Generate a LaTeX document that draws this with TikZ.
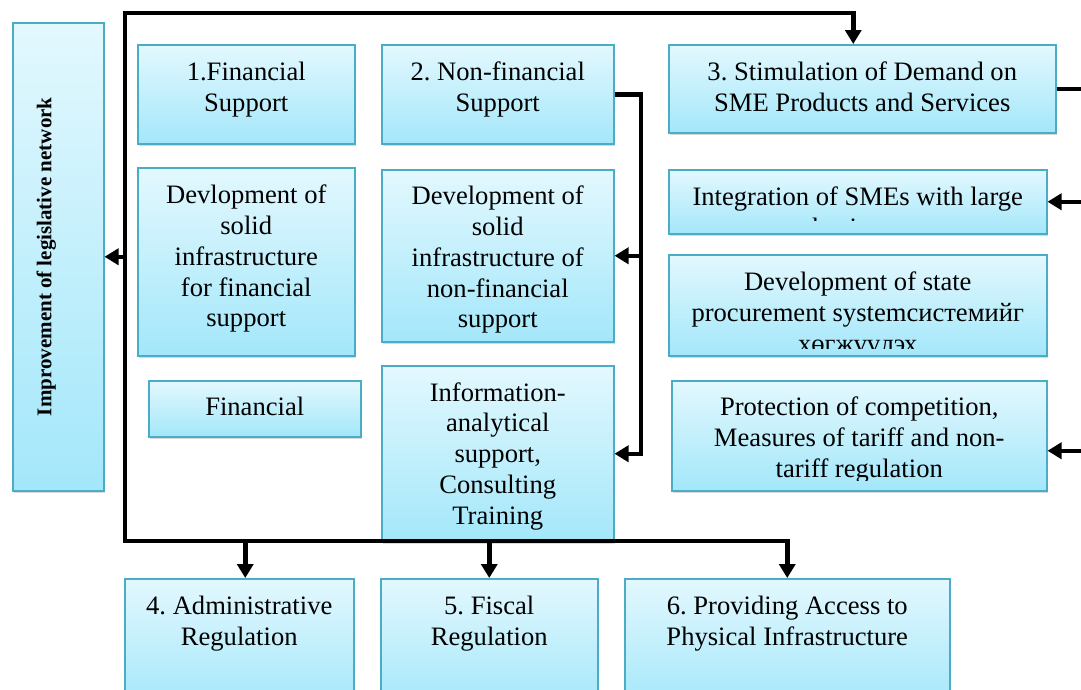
\documentclass[tikz,border=0pt]{standalone}
\usepackage{fontspec}
\setmainfont{Liberation Serif}
\frenchspacing
\usetikzlibrary{arrows.meta,shadows}
\definecolor{boxEdge}{HTML}{4BACC6}
\definecolor{boxTop}{HTML}{E3F8FE}
\definecolor{boxBottom}{HTML}{A3E7FA}

\begin{document}
\begin{tikzpicture}[
    x=1pt,y=-1pt,
    >={Triangle[length=14pt,width=16pt]},
    box/.style={draw=boxEdge,line width=1.5pt,top color=boxTop,bottom color=boxBottom,
      anchor=north west,inner sep=0pt,
      drop shadow={shadow xshift=1.5pt,shadow yshift=-2.5pt,opacity=0.3}},
    lbl/.style={align=center,inner sep=0pt,font=\fontsize{26.6}{30.8}\selectfont},
    link/.style={line width=4.5pt},
  ]
  \useasboundingbox (0,0) rectangle (1081,689);
  \clip (0,0) rectangle (1081,689);

  % Boxes
  \node[box,minimum width=91,minimum height=468] (legis) at (12,22) {};
  \node[box,minimum width=217,minimum height=99] (fin) at (137,44) {};
  \node[box,minimum width=232,minimum height=99] (nonfin) at (381,44) {};
  \node[box,minimum width=387,minimum height=88] (demand) at (668,44) {};
  \node[box,minimum width=217,minimum height=188] (finInfra) at (137,167) {};
  \node[box,minimum width=232,minimum height=172] (nonfinInfra) at (381,169) {};
  \node[box,minimum width=212,minimum height=56] (finance) at (148,380) {};
  \node[box,minimum width=232,minimum height=176] (info) at (381,365) {};
  \node[box,minimum width=378,minimum height=64] (integ) at (668,169) {};
  \node[box,minimum width=378,minimum height=101] (procure) at (668,254) {};
  \node[box,minimum width=375,minimum height=110] (protect) at (671,380) {};
  \node[box,minimum width=229,minimum height=130] (admin) at (124,578) {};
  \node[box,minimum width=217,minimum height=130] (fiscal) at (380,578) {};
  \node[box,minimum width=325,minimum height=130] (access) at (624,578) {};

  % Texts
  \node[lbl,rotate=90,font=\bfseries\fontsize{21}{25}\selectfont] (legisT)
    at ([xshift=-12]legis.center) {Improvement of legislative network};
  \node[lbl] (finT) at ([yshift=4.5]fin.center) {1.Financial\\Support};
  \node[lbl] (nonfinT) at ([yshift=4.5]nonfin.center) {2. Non-financial\\Support};
  \node[lbl] (demandT) at ([yshift=2]demand.center)
    {3. Stimulation of Demand on\\SME Products and Services};
  \node[lbl] (finInfraT) at ([yshift=3]finInfra.center)
    {Devlopment of\\solid\\infrastructure\\for financial\\support};
  \node[lbl] (nonfinInfraT) at ([yshift=-4]nonfinInfra.center)
    {Development of\\solid\\infrastructure of\\non-financial\\support};
  \node[lbl] (financeT) at ([yshift=2]finance.center) {Financial};
  \node[lbl] (infoT) at ([yshift=-2.5]info.center)
    {Information-\\analytical\\support,\\Consulting\\Training};
  \begin{scope}
    \clip (integ.north west) rectangle ([yshift=14]integ.south east);
    \node[lbl] (integT) at ([yshift=-10]integ.center)
      {Integration of SMEs with large\\business};
  \end{scope}
  \begin{scope}
    \clip (procure.north west) rectangle ([yshift=8]procure.south east);
    \node[lbl] (procureT) at ([yshift=-9.5]procure.center)
      {Development of state\\procurement systemсистемийг\\хөгжүүлэх};
  \end{scope}
  \begin{scope}
    \clip (protect.north west) rectangle ([yshift=11]protect.south east);
    \node[lbl] (protectT) at ([yshift=-4]protect.center)
      {Protection of competition,\\Measures of tariff and non-\\tariff regulation};
  \end{scope}
  \node[lbl] (adminT) at ([yshift=-46]admin.north) {4. Administrative\\Regulation};
  \node[lbl] (fiscalT) at ([yshift=-46]fiscal.north) {5. Fiscal\\Regulation};
  \node[lbl] (accessT) at ([yshift=-46]access.north)
    {6. Providing Access to\\Physical Infrastructure};

  % Connectors
  \coordinate (top) at (125,13);
  \coordinate (bot) at (125,541);
  \coordinate (nbus) at (641,0);
  \coordinate (dbus) at (1085,0);
  \coordinate (demandIn) at ([xshift=-9]demand.north);
  \coordinate (adminIn) at ([xshift=6]admin.north);
  \coordinate (protectIn) at ([yshift=-15]protect.east);

  \draw[link,<->] (access.north) |- (bot) -- (top) -| (demandIn);
  \draw[link,->] (top |- legis.east) -- (legis.east);
  \draw[link,->] (bot -| adminIn) -- (adminIn);
  \draw[link,->] (bot -| fiscal.north) -- (fiscal.north);

  \draw[link,->] (nonfin.east) -- (nbus |- nonfin.east) |- (info.east);
  \draw[link,->] (nbus |- nonfinInfra.east) -- (nonfinInfra.east);

  \draw[link,->] (demand.east) -- (dbus |- demand.east) |- (protectIn);
  \draw[link,->] (dbus |- integ.east) -- (integ.east);
\end{tikzpicture}
\end{document}
